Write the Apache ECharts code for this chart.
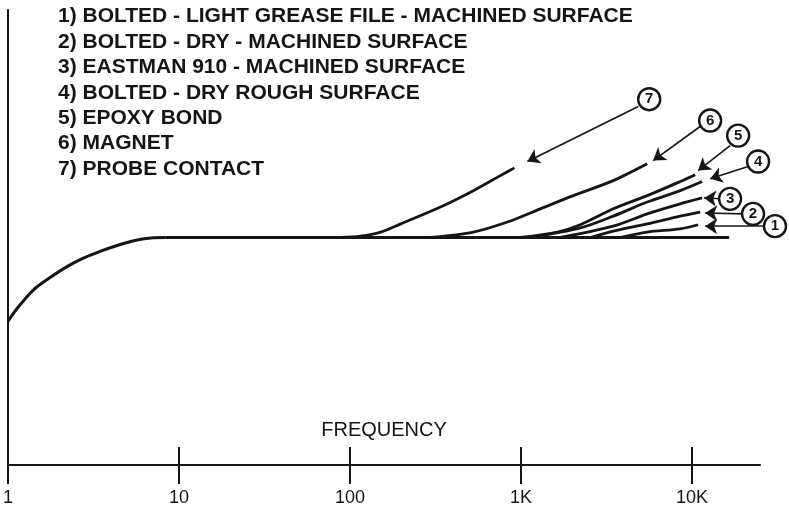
<!DOCTYPE html>
<html>
<head>
<meta charset="utf-8">
<script src="https://cdn.jsdelivr.net/npm/echarts@6/dist/echarts.min.js"></script>
<style>
html,body{margin:0;padding:0;background:#fff;}
#chart{width:789px;height:510px;}
</style>
</head>
<body>
<div id="chart"></div>
<script>
// ---- data ----
const legendLines = [
  '1) BOLTED - LIGHT GREASE FILE - MACHINED SURFACE',
  '2) BOLTED - DRY - MACHINED SURFACE',
  '3) EASTMAN 910 - MACHINED SURFACE',
  '4) BOLTED - DRY ROUGH SURFACE',
  '5) EPOXY BOND',
  '6) MAGNET',
  '7) PROBE CONTACT'
];
const xAxisName = 'FREQUENCY';
const freqTicks = [1, 10, 100, 1000, 10000];
const tickLabels = ['1', '10', '100', '1K', '10K'];

// [frequency Hz, relative response]
const baseRise = [[1,31.6],[1.13,34.4],[1.42,38.6],[1.78,41.3],[2.24,43.7],[2.78,45.5],[3.49,47.0],[4.39,48.3],[5.44,49.3],[6.84,49.9],[8.37,50]];
const baseFlat = [[8.37,50],[16500,50]];
const curve7 = [[88,50],[115,50.3],[151,51.2],[198,53.0],[338,56.7],[527,60.3],[758,63.6],[915,65.3]];
const curve6 = [[296,50],[527,51.2],[833,53.4],[1297,56.3],[2024,59.2],[3465,62.5],[5474,66.2]];
const curve5 = [[991,50],[1632,51.2],[2224,52.8],[3465,56.3],[5474,59.2],[8535,62.3],[10450,63.8]];
const curve4 = [[1135,50],[2224,52.1],[3465,54.7],[5474,57.8],[8535,60.3],[11470,62.3]];
const curve3 = [[1699,50],[3465,52.5],[5474,55.2],[8535,57.4],[11470,58.7]];
const curve2 = [[2543,50],[3465,51.4],[5474,53.0],[8535,54.7],[11170,55.6]];
const curve1 = [[3808,50],[5474,51.2],[8535,51.9],[10870,52.8]];

// numbered circle callouts and their arrows
const calloutLabels = ['1','2','3','4','5','6','7'];
const calloutPos = [[30600,52.5],[22760,55.2],[16710,58.5],[24360,66.7],[18620,72.4],[12770,75.7],[5623,80.4]];
const arrowFrom = [[26790,52.5],[19910,55.2],[14620,58.5],[21300,65.6],[16710,70.2],[11170,74.4],[4853,78.8]];
const arrowTo   = [[11940,52.5],[11940,55.4],[11780,58.7],[12770,62.9],[10870,64.7],[5930,66.9],[1090,66.7]];

// ---- chart ----
const chart = echarts.init(document.getElementById('chart'), null, {renderer:'canvas'});
const black = '#151515';
const curves = [curve1, curve2, curve3, curve4, curve5, curve6, curve7];
const curveSeries = curves.map((c, i) => ({
  type: 'line', name: legendLines[i], data: c, smooth: 0.3, symbol: 'none',
  lineStyle: {color: black, width: 2.8}, silent: true, z: 3
}));

const option = {
  animation: false,
  backgroundColor: '#fff',
  title: {
    text: legendLines.join('\n'),
    left: 58, top: 4, padding: 0,
    textStyle: {fontFamily: 'Liberation Sans', fontSize: 21, fontWeight: 'bold', color: black, lineHeight: 25.4}
  },
  grid: {left: 7, right: 29, top: 10, bottom: 45, containLabel: false},
  xAxis: [{
    type: 'log', logBase: 10, min: 1, max: 25000,
    name: xAxisName, nameLocation: 'middle', nameGap: -45,
    nameTextStyle: {fontFamily: 'Liberation Sans', fontSize: 20, color: black},
    axisLine: {show: true, lineStyle: {color: black, width: 2}},
    axisTick: {show: true, inside: false, length: 19, customValues: freqTicks, lineStyle: {color: black, width: 2}},
    axisLabel: {show: true, customValues: freqTicks, margin: 24,
      formatter: v => { const i = freqTicks.indexOf(Math.round(v)); return i >= 0 ? tickLabels[i] : ''; },
      fontFamily: 'Liberation Sans', fontSize: 18, color: black},
    splitLine: {show: false}, minorTick: {show: false}
  }, {
    type: 'log', logBase: 10, min: 1, max: 25000, position: 'bottom',
    axisLine: {show: false},
    axisTick: {show: true, inside: true, length: 18, customValues: freqTicks, lineStyle: {color: black, width: 2}},
    axisLabel: {show: false}, splitLine: {show: false}
  }],
  yAxis: {
    type: 'value', min: 0, max: 100,
    axisLine: {show: true, lineStyle: {color: black, width: 2}},
    axisTick: {show: false}, axisLabel: {show: false}, splitLine: {show: false}
  },
  series: [
    {type: 'line', name: 'base rise', data: baseRise, smooth: 0.3, symbol: 'none',
     lineStyle: {color: black, width: 3}, silent: true, z: 4},
    {type: 'line', name: 'base flat', data: baseFlat, symbol: 'none',
     lineStyle: {color: black, width: 3}, silent: true, z: 4},
    ...curveSeries,
    {type: 'lines', coordinateSystem: 'cartesian2d', clip: false, silent: true, z: 5,
     symbol: ['none', 'arrow'], symbolSize: [0, 12],
     lineStyle: {color: black, width: 1.6, opacity: 1, curveness: 0},
     data: arrowFrom.map((f, i) => ({coords: [f, arrowTo[i]]}))},
    {type: 'scatter', name: 'callouts', clip: false, silent: true, z: 6,
     symbol: 'circle', symbolSize: 22,
     itemStyle: {color: '#fff', borderColor: black, borderWidth: 2.4, opacity: 1},
     label: {show: true, position: 'inside', formatter: p => calloutLabels[p.dataIndex],
       fontFamily: 'Liberation Sans', fontWeight: 'bold', fontSize: 15, color: black},
     data: calloutPos}
  ]
};
chart.setOption(option);
</script>
</body>
</html>
